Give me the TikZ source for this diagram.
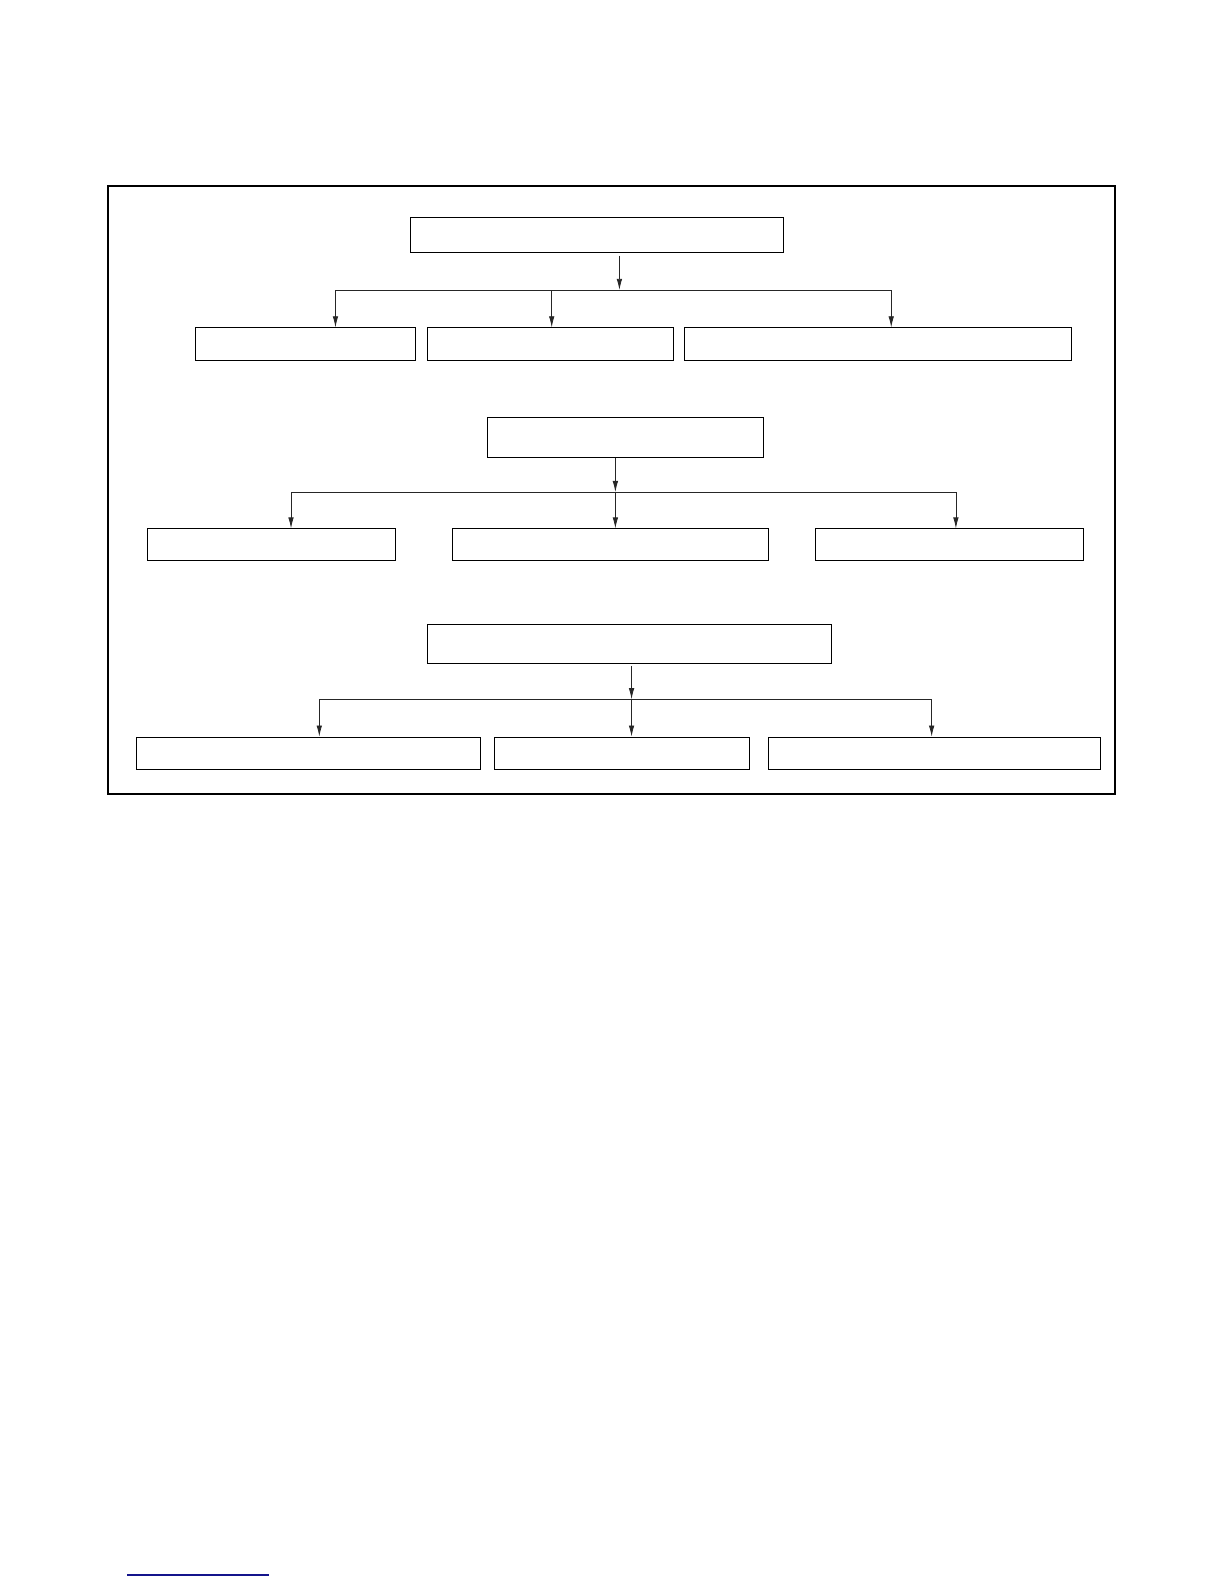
\documentclass[tikz,border=0pt]{standalone}
\usetikzlibrary{arrows.meta}
\begin{document}
\begin{tikzpicture}[x=1pt,y=-1pt,
  box/.style={draw,line width=1pt,inner sep=0pt,anchor=north west},
  conn/.style={line width=0.8pt,draw=black!85},
  arr/.style={conn,-{Latex[length=11pt,width=5.5pt]}}]
\useasboundingbox (0,0) rectangle (1211.3,1567.6);
% outer frame
\draw[line width=2pt] (107,184) rectangle (1103,786);
% ---- group 1
\node[box,minimum width=369pt,minimum height=34pt] (t1) at (406,215) {};
\node[box,minimum width=218pt,minimum height=32pt] (a1) at (193,324) {};
\node[box,minimum width=243pt,minimum height=32pt] (a2) at (423,324) {};
\node[box,minimum width=383pt,minimum height=32pt] (a3) at (677,324) {};
\coordinate (j1) at (613,287);
\coordinate (l1) at (332,287);
\coordinate (m1) at (546,287);
\coordinate (r1) at (882,287);
\draw[arr,shorten <=3pt] (t1.south -| j1) -- (j1);
\draw[conn] (l1) -- (r1);
\draw[arr] (l1) -- (l1 |- a1.north);
\draw[arr] (m1) -- (m1 |- a2.north);
\draw[arr] (r1) -- (r1 |- a3.north);
% ---- group 2
\node[box,minimum width=273pt,minimum height=39pt] (t2) at (482,413) {};
\node[box,minimum width=246pt,minimum height=31pt] (b1) at (145,523) {};
\node[box,minimum width=313pt,minimum height=31pt] (b2) at (447,523) {};
\node[box,minimum width=265pt,minimum height=31pt] (b3) at (807,523) {};
\coordinate (j2) at (609,487);
\coordinate (l2) at (288,487);
\coordinate (r2) at (946,487);
\draw[arr] (t2.south -| j2) -- (j2);
\draw[conn] (l2) -- (r2);
\draw[arr] (l2) -- (l2 |- b1.north);
\draw[arr] (j2) -- (j2 |- b2.north);
\draw[arr] (r2) -- (r2 |- b3.north);
% ---- group 3
\node[box,minimum width=399pt,minimum height=38pt] (t3) at (423,618) {};
\node[box,minimum width=340pt,minimum height=32pt] (c1) at (135,729) {};
\node[box,minimum width=252pt,minimum height=32pt] (c2) at (489,729) {};
\node[box,minimum width=329pt,minimum height=32pt] (c3) at (760,729) {};
\coordinate (j3) at (625,692);
\coordinate (l3) at (316,692);
\coordinate (r3) at (922,692);
\draw[arr,shorten <=2pt] (t3.south -| j3) -- (j3);
\draw[conn] (l3) -- (r3);
\draw[arr] (l3) -- (l3 |- c1.north);
\draw[arr] (j3) -- (j3 |- c2.north);
\draw[arr] (r3) -- (r3 |- c3.north);
% footnote rule
\draw[line width=1.2pt,draw={rgb,255:red,20;green,20;blue,140}] (125.7,1558.6) -- (266.2,1558.6);
\end{tikzpicture}
\end{document}
